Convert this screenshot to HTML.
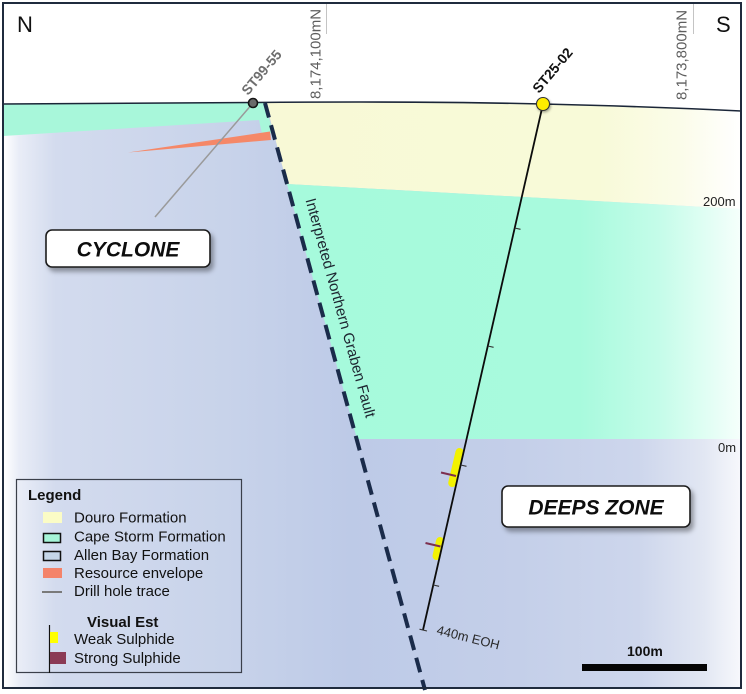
<!DOCTYPE html>
<html><head><meta charset="utf-8"><style>
html,body{margin:0;padding:0;background:#fff;}
svg{display:block;font-family:"Liberation Sans",Arial,sans-serif;}
</style></head><body>
<svg width="746" height="694" viewBox="0 0 746 694" xmlns="http://www.w3.org/2000/svg">
<defs>
<linearGradient id="blue" gradientUnits="userSpaceOnUse" x1="4" y1="0" x2="741" y2="0">
<stop offset="0" stop-color="#ffffff"/>
<stop offset="0.02" stop-color="#e9edf7"/>
<stop offset="0.07" stop-color="#d3dbee"/>
<stop offset="0.30" stop-color="#c8d3ea"/>
<stop offset="0.47" stop-color="#bdcae7"/>
<stop offset="0.70" stop-color="#c4cfe9"/>
<stop offset="0.86" stop-color="#cdd6ec"/>
<stop offset="0.95" stop-color="#e2e7f3"/>
<stop offset="1" stop-color="#f7f8fc"/>
</linearGradient>
<linearGradient id="green" gradientUnits="userSpaceOnUse" x1="280" y1="0" x2="741" y2="0">
<stop offset="0" stop-color="#a6fadc"/>
<stop offset="0.65" stop-color="#a8fadd"/>
<stop offset="0.82" stop-color="#c4fce9"/>
<stop offset="0.93" stop-color="#e2fef4"/>
<stop offset="1" stop-color="#f6fffc"/>
</linearGradient>
<linearGradient id="douro" gradientUnits="userSpaceOnUse" x1="265" y1="0" x2="741" y2="0">
<stop offset="0" stop-color="#f8f9d6"/>
<stop offset="0.7" stop-color="#f8fad8"/>
<stop offset="0.87" stop-color="#fbfce9"/>
<stop offset="1" stop-color="#ffffff"/>
</linearGradient>
<filter id="sh" x="-10%" y="-20%" width="130%" height="160%">
<feDropShadow dx="3" dy="4" stdDeviation="2.5" flood-color="#000" flood-opacity="0.35"/>
</filter>
<filter id="sh2" x="-50%" y="-50%" width="200%" height="200%">
<feDropShadow dx="1" dy="1.5" stdDeviation="1.2" flood-color="#000" flood-opacity="0.35"/>
</filter>
</defs>

<!-- Allen Bay base fill below surface -->
<path d="M3,104 L253,102.5 Q420,101 543,104 Q650,106.5 741,111 L741,688 L3,688 Z" fill="url(#blue)"/>

<!-- North block Cape Storm strip -->
<path d="M3,104 L265,103 L273,133 L262,134 L259,120 L3,136 Z" fill="#a8f7da"/>

<!-- Resource envelope -->
<path d="M128,152.5 L270,131.5 L271,140 Z" fill="#f58868"/>

<!-- South block Douro -->
<path d="M266,103 Q420,101 543,104 Q650,106.5 741,111 L741,209 L287,184 Z" fill="url(#douro)"/>
<!-- South block Cape Storm -->
<path d="M287,184 L741,209 L741,439 L357,439 Z" fill="url(#green)"/>

<!-- surface line -->
<path d="M3,104 L253,102.5 Q420,101 543,104 Q650,106.5 741,111" fill="none" stroke="#1b2638" stroke-width="1.6"/>

<!-- coordinate ticks -->
<line x1="326.5" y1="4" x2="326.5" y2="34" stroke="#c4c4c4" stroke-width="1"/>
<line x1="693.5" y1="4" x2="693.5" y2="34" stroke="#c4c4c4" stroke-width="1"/>
<text transform="translate(316,54) rotate(-90)" text-anchor="middle" dominant-baseline="central" font-size="15" fill="#5e5e5e">8,174,100mN</text>
<text transform="translate(682,55) rotate(-90)" text-anchor="middle" dominant-baseline="central" font-size="15" fill="#5e5e5e">8,173,800mN</text>

<text x="17" y="32" font-size="22" fill="#111">N</text>
<text x="716" y="32" font-size="22" fill="#111">S</text>

<!-- ST99-55 trace -->
<line x1="253" y1="103" x2="155" y2="217" stroke="#9a9a9a" stroke-width="1.5"/>

<!-- Fault -->
<line x1="265" y1="103" x2="425" y2="690" stroke="#1a2b4a" stroke-width="4" stroke-dasharray="15 8"/>
<text transform="translate(340,308) rotate(74.5)" text-anchor="middle" dominant-baseline="central" font-size="15" fill="#1d2530">Interpreted Northern Graben Fault</text>

<!-- sulphides (under trace) -->
<line x1="459.5" y1="452" x2="452.2" y2="483" stroke="#f2f200" stroke-width="8" stroke-linecap="round"/>
<line x1="440" y1="541" x2="436.5" y2="556" stroke="#f2f200" stroke-width="8" stroke-linecap="round"/>

<!-- ST25-02 trace -->
<line x1="543" y1="104" x2="423" y2="630" stroke="#0c0c0c" stroke-width="1.8"/>
<g stroke="#333" stroke-width="1.1">
<line x1="514.7" y1="228" x2="520.5" y2="229.3"/>
<line x1="487.8" y1="346" x2="493.6" y2="347.3"/>
<line x1="460.7" y1="465" x2="466.5" y2="466.3"/>
<line x1="433.3" y1="585" x2="439.1" y2="586.3"/>
<line x1="419.5" y1="629.2" x2="427" y2="631"/>
</g>
<line x1="441" y1="472.5" x2="456" y2="476" stroke="#7d2f4f" stroke-width="2"/>
<line x1="425.5" y1="543" x2="440.5" y2="546.5" stroke="#7d2f4f" stroke-width="2"/>

<text transform="translate(436,634) rotate(14)" font-size="13" fill="#2a2a2a">440m EOH</text>

<!-- collars -->
<circle cx="253" cy="103" r="4.5" fill="#6a6a6a" stroke="#151515" stroke-width="1.6"/>
<circle cx="543" cy="104" r="6.5" fill="#ffec00" stroke="#333" stroke-width="1.1" filter="url(#sh2)"/>

<text transform="translate(248,96) rotate(-50)" font-size="14" font-weight="bold" fill="#6e6e6e">ST99-55</text>
<text transform="translate(539,94) rotate(-50)" font-size="14" font-weight="bold" fill="#111">ST25-02</text>

<!-- depth labels -->
<text x="703" y="206" font-size="13" fill="#222">200m</text>
<text x="718" y="452" font-size="13" fill="#222">0m</text>

<!-- CYCLONE box -->
<rect x="46" y="230" width="164" height="37" rx="6" ry="6" fill="#fff" stroke="#1d1d1d" stroke-width="1.6" filter="url(#sh)"/>
<text x="128" y="256.5" text-anchor="middle" font-size="21" font-weight="bold" font-style="italic" fill="#0d0d0d">CYCLONE</text>

<!-- DEEPS ZONE box -->
<rect x="502" y="486" width="188" height="41" rx="6" ry="6" fill="#fff" stroke="#1d1d1d" stroke-width="1.6" filter="url(#sh)"/>
<text x="596" y="514.5" text-anchor="middle" font-size="21" font-weight="bold" font-style="italic" fill="#0d0d0d">DEEPS ZONE</text>

<!-- scale bar -->
<text x="627" y="656" font-size="14" font-weight="bold" fill="#111">100m</text>
<rect x="582" y="664" width="125" height="7" fill="#050505"/>

<!-- Legend -->
<rect x="16.5" y="479.5" width="225" height="193" fill="none" stroke="#3a3f4a" stroke-width="1.2"/>
<text x="28" y="500" font-size="15" font-weight="bold" fill="#111">Legend</text>
<rect x="43" y="512" width="19" height="11" fill="#fbfcc6"/>
<text x="74" y="522.5" font-size="15" fill="#111">Douro Formation</text>
<rect x="43.5" y="533.5" width="17" height="9" fill="#a6f5d8" stroke="#111" stroke-width="1.5"/>
<text x="74" y="541.5" font-size="15" fill="#111">Cape Storm Formation</text>
<rect x="43.5" y="551.5" width="17" height="9" fill="#c5d6e8" stroke="#111" stroke-width="1.5"/>
<text x="74" y="560" font-size="15" fill="#111">Allen Bay Formation</text>
<rect x="43" y="568" width="19" height="10" fill="#f4836a"/>
<text x="74" y="578" font-size="15" fill="#111">Resource envelope</text>
<line x1="42" y1="592" x2="62" y2="592" stroke="#7a7a7a" stroke-width="2"/>
<text x="74" y="596" font-size="15" fill="#111">Drill hole trace</text>
<text x="87" y="627" font-size="15" font-weight="bold" fill="#111">Visual Est</text>
<line x1="49.5" y1="625" x2="49.5" y2="673" stroke="#111" stroke-width="1.2"/>
<rect x="50" y="632" width="8" height="11" fill="#ffff00"/>
<text x="74" y="644" font-size="15" fill="#111">Weak Sulphide</text>
<rect x="50" y="652" width="16" height="12" fill="#8b3a55"/>
<text x="74" y="663" font-size="15" fill="#111">Strong Sulphide</text>

<!-- frame -->
<rect x="3" y="3" width="738" height="685" fill="none" stroke="#1f2b3d" stroke-width="2"/>
</svg>
</body></html>
